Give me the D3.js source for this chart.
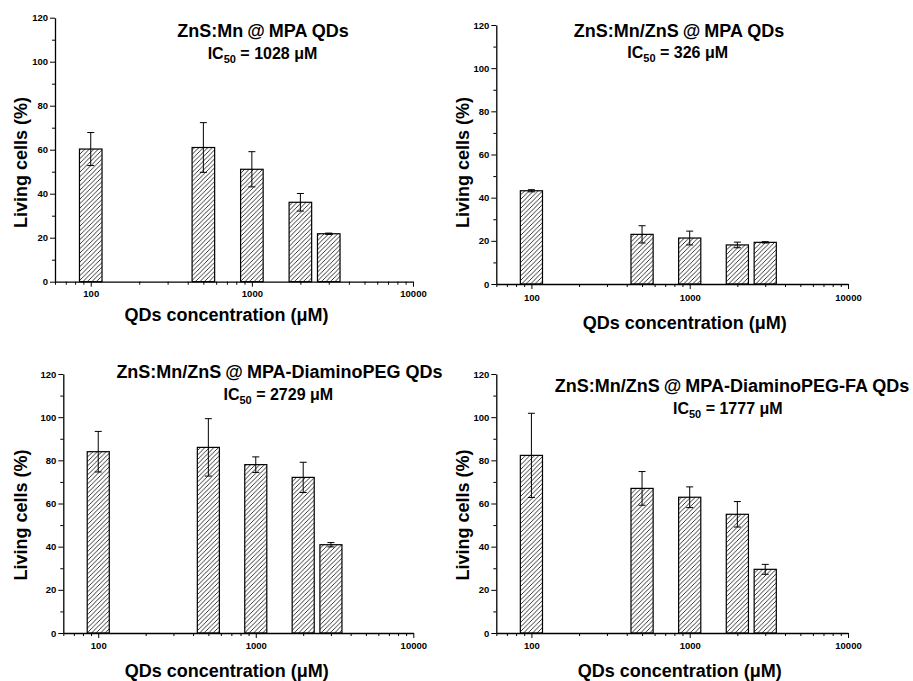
<!DOCTYPE html>
<html>
<head>
<meta charset="utf-8">
<script src="https://cdn.jsdelivr.net/npm/d3@7/dist/d3.min.js"></script>
<style>
  html, body { margin: 0; padding: 0; background: #fff; }
  svg { display: block; }
  text { font-family: "Liberation Sans", Arial, "Noto Sans CJK SC", sans-serif; font-weight: bold; fill: #000; }
</style>
</head>
<body>
<svg id="chart" width="913" height="681"></svg>
<script>
// ---------------- DATA ----------------
const concentrations = [100, 500, 1000, 2000, 3000];

const viabilityMPA      = [60.3, 61.0, 51.1, 36.1, 21.8];
const errorMPA          = [7.5, 11.3, 8.0, 4.0, 0.3];

const viabilityShellMPA = [43.2, 23.0, 21.3, 18.1, 19.3];
const errorShellMPA     = [0.5, 4.0, 3.2, 1.3, 0.3];

const viabilityPEG      = [84.0, 86.0, 78.0, 72.1, 40.9];
const errorPEG          = [9.4, 13.3, 3.6, 7.0, 1.0];

const viabilityPEGFA    = [82.3, 67.0, 62.9, 55.0, 29.5];
const errorPEGFA        = [19.5, 7.8, 4.8, 5.9, 2.3];

const titleNames = [
  ["ZnS:Mn", "MPA QDs"],
  ["ZnS:Mn/ZnS", "MPA QDs"],
  ["ZnS:Mn/ZnS", "MPA-DiaminoPEG QDs"],
  ["ZnS:Mn/ZnS", "MPA-DiaminoPEG-FA QDs"]
];
const ic50Values = [1028, 326, 2729, 1777];

const yTickValues = [0, 20, 40, 60, 80, 100, 120];
const yMinorTicks = [10, 30, 50, 70, 90, 110];
const xTickValues = [100, 1000, 10000];
const xMinorTicks = [60, 70, 80, 90, 200, 300, 400, 500, 600, 700, 800, 900,
                     2000, 3000, 4000, 5000, 6000, 7000, 8000, 9000];
const xDomain = [60, 10000];
const yDomain = [0, 120];
const xAxisTitle = "QDs concentration (\u03BCM)";
const yAxisTitle = "Living cells (%)";

const seriesValues = [viabilityMPA, viabilityShellMPA, viabilityPEG, viabilityPEGFA];
const seriesErrors = [errorMPA, errorShellMPA, errorPEG, errorPEGFA];

// ---------------- LAYOUT ----------------
const layouts = [
  {left: 55,    right: 413,   top: 17.7, bottom: 281.7, t1x: 263, t2x: 262.5, t1y: 36.5,  t2y: 59,  xlx: 226.5, xly: 321, ylx: 26.5,  yly: 162.5, tly: 297.5},
  {left: 496.3, right: 848,   top: 25,   bottom: 284,   t1x: 679, t2x: 677.7, t1y: 36.7,  t2y: 58.3, xlx: 684.7, xly: 328.5, ylx: 469, yly: 162.5, tly: 300.5},
  {left: 63.3,  right: 413.3, top: 374,  bottom: 633,   t1x: 279.5, t2x: 278.3, t1y: 378.3, t2y: 400, xlx: 226.7, xly: 676.5, ylx: 26.5, yly: 515, tly: 648.5},
  {left: 496.3, right: 848,   top: 374,  bottom: 633,   t1x: 732, t2x: 727.8, t1y: 391.7, t2y: 414, xlx: 679.7, xly: 676.5, ylx: 469, yly: 515, tly: 648.5}
];

const barHalfLog = 0.07;

const svg = d3.select("#chart");
const defs = svg.append("defs");
const pat = defs.append("pattern")
  .attr("id", "hatch")
  .attr("patternUnits", "userSpaceOnUse")
  .attr("width", 4.5).attr("height", 4.5);
pat.append("rect").attr("width", 4.5).attr("height", 4.5).attr("fill", "#fff");
pat.append("path")
  .attr("d", "M-1,5.5 L5.5,-1 M-2,2 L2,-2 M2.5,6.5 L6.5,2.5")
  .attr("stroke", "#000").attr("stroke-width", 0.8).attr("fill", "none");

layouts.forEach((L, i) => {
  const g = svg.append("g");
  const x = d3.scaleLog().domain(xDomain).range([L.left, L.right]);
  const y = d3.scaleLinear().domain(yDomain).range([L.bottom, L.top]);
  const vals = seriesValues[i], errs = seriesErrors[i];

  // bars
  g.selectAll("rect.bar").data(concentrations).enter().append("rect")
    .attr("class", "bar")
    .attr("x", d => x(d / Math.pow(10, barHalfLog)))
    .attr("width", d => x(d * Math.pow(10, barHalfLog)) - x(d / Math.pow(10, barHalfLog)))
    .attr("y", (d, j) => y(vals[j]))
    .attr("height", (d, j) => y(0) - y(vals[j]))
    .attr("fill", "url(#hatch)")
    .attr("stroke", "#000").attr("stroke-width", 1.2);

  // error bars
  const eg = g.selectAll("g.err").data(concentrations).enter().append("g").attr("class", "err");
  eg.append("line")
    .attr("x1", d => x(d)).attr("x2", d => x(d))
    .attr("y1", (d, j) => y(vals[j] - errs[j])).attr("y2", (d, j) => y(vals[j] + errs[j]))
    .attr("stroke", "#000").attr("stroke-width", 1);
  [1, -1].forEach(s => {
    eg.append("line")
      .attr("x1", d => x(d) - 3.5).attr("x2", d => x(d) + 3.5)
      .attr("y1", (d, j) => y(vals[j] + s * errs[j])).attr("y2", (d, j) => y(vals[j] + s * errs[j]))
      .attr("stroke", "#000").attr("stroke-width", 1);
  });

  // y axis
  g.append("g").attr("transform", `translate(${L.left},0)`)
    .call(d3.axisLeft(y).tickValues(yTickValues).tickSize(5).tickSizeOuter(0).tickPadding(2));
  g.append("g").attr("transform", `translate(${L.left},0)`)
    .call(d3.axisLeft(y).tickValues(yMinorTicks).tickSize(3).tickSizeOuter(0).tickFormat(""))
    .select(".domain").remove();

  // x axis
  const xAx = g.append("g").attr("transform", `translate(0,${L.bottom})`)
    .call(d3.axisBottom(x).tickValues(xTickValues).tickSize(5).tickSizeOuter(0).tickFormat(d3.format("d")));
  g.append("g").attr("transform", `translate(0,${L.bottom})`)
    .call(d3.axisBottom(x).tickValues(xMinorTicks).tickSize(3).tickSizeOuter(0).tickFormat(""))
    .select(".domain").remove();

  g.selectAll(".domain").attr("stroke", "#000").attr("stroke-width", 1.3);
  g.selectAll(".tick line").attr("stroke", "#000").attr("stroke-width", 1);
  g.selectAll(".tick text")
    .style("font-family", '"Liberation Sans", Arial, sans-serif')
    .style("font-weight", "bold").attr("font-size", 9.5).attr("fill", "#000");
  xAx.selectAll(".tick text").attr("dy", null).attr("y", L.tly - L.bottom);

  // titles
  const t1 = g.append("text").attr("x", L.t1x).attr("y", L.t1y)
    .attr("text-anchor", "middle").attr("font-size", 18);
  t1.append("tspan").text(titleNames[i][0]);
  t1.append("tspan").attr("dx", 4).text("@");
  t1.append("tspan").attr("dx", 4).text(titleNames[i][1]);

  const t2 = g.append("text").attr("x", L.t2x).attr("y", L.t2y)
    .attr("text-anchor", "middle").attr("font-size", 16);
  t2.append("tspan").text("IC");
  t2.append("tspan").attr("font-size", 11).attr("dy", 4).text("50");
  t2.append("tspan").attr("dy", -4).text(` = ${ic50Values[i]} \u03BCM`);

  // axis titles
  g.append("text").attr("x", L.xlx).attr("y", L.xly)
    .attr("text-anchor", "middle").attr("font-size", 18).text(xAxisTitle);
  g.append("text")
    .attr("transform", `translate(${L.ylx},${L.yly}) rotate(-90)`)
    .attr("text-anchor", "middle").attr("font-size", 18).text(yAxisTitle);
});
</script>
</body>
</html>
